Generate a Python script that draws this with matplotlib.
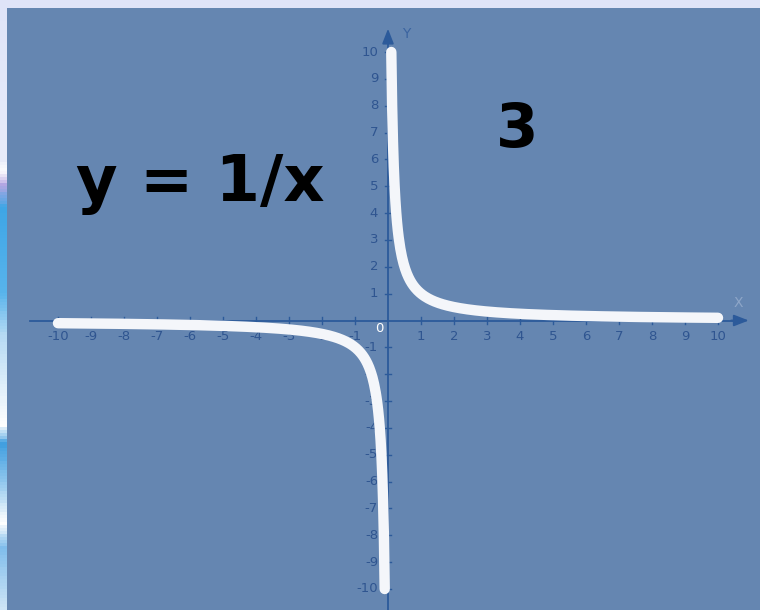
import numpy as np
import matplotlib
matplotlib.use("Agg")
import matplotlib.pyplot as plt
from matplotlib.colors import LinearSegmentedColormap

# Daten: y = 1/x, Stuetzstellen
x_pos = np.linspace(0.1, 10, 400)
x_neg = np.linspace(-10, -0.1, 400)
x_ticks = [-10, -9, -8, -7, -6, -5, -4, -3, -2, -1, 1, 2, 3, 4, 5, 6, 7, 8, 9, 10]
y_ticks = [-10, -9, -8, -7, -6, -5, -4, -3, -2, -1, 1, 2, 3, 4, 5, 6, 7, 8, 9, 10]
formula_text = "y = 1/x"
slide_number = "3"

W, H = 760, 610
panel_color = "#6586b1"
axis_color = "#2c5a9a"
label_color = "#2f5590"

fig = plt.figure(figsize=(W / 100, H / 100), dpi=100)
fig.patch.set_facecolor("#dfe4f8")

# linker Rand mit Farbverlauf (Hintergrund der Folie)
strip = fig.add_axes([0, 0, 8 / W, 1])
cmap = LinearSegmentedColormap.from_list("strip", [
    (0.0, "#dfe4f8"), (0.26, "#e8ecfa"), (0.28, "#ffffff"), (0.30, "#b8a6e2"),
    (0.34, "#3fa6e6"), (0.48, "#58b4ec"), (0.55, "#b6daf4"), (0.70, "#ffffff"),
    (0.73, "#3f9ee0"), (0.80, "#9ccdf0"), (0.86, "#ffffff"), (0.90, "#7fbdec"),
    (1.0, "#cde4f6")])
strip.imshow(np.linspace(0, 1, 200).reshape(-1, 1), aspect="auto", cmap=cmap)
strip.axis("off")

# Panel
px0, py0 = 7, 8
ax = fig.add_axes([px0 / W, 0, (W - px0) / W, (H - py0) / H])
ax.set_facecolor(panel_color)

sx = 33.0     # Pixel pro Einheit in x
sy = 26.85    # Pixel pro Einheit in y
ox, oy = 388, 320.5
ax.set_xlim((px0 - ox) / sx, (W - ox) / sx)
ax.set_ylim((oy - H) / sy, (oy - py0) / sy)
for s in ax.spines.values():
    s.set_visible(False)
ax.set_xticks([])
ax.set_yticks([])

# Achsen mit Pfeilen
x_left = (30 - ox) / sx
x_right = (735 - ox) / sx
y_top = (oy - 38) / sy
y_bot = (oy - H) / sy
ax.plot([x_left, x_right], [0, 0], color=axis_color, lw=1.3, zorder=2)
ax.plot([0, 0], [y_bot, y_top], color=axis_color, lw=1.3, zorder=2)
ax.annotate("", xy=(x_right + 0.5, 0), xytext=(x_right - 0.2, 0),
            arrowprops=dict(arrowstyle="-|>,head_width=0.35,head_length=0.9",
                            color=axis_color, lw=1.3), zorder=3)
ax.annotate("", xy=(0, y_top + 0.45), xytext=(0, y_top - 0.2),
            arrowprops=dict(arrowstyle="-|>,head_width=0.35,head_length=0.9",
                            color=axis_color, lw=1.3), zorder=3)
ax.text(x_right + 0.1, 0.65, "X", color="#8ea6c8", fontsize=10, ha="center", va="center")
ax.text(0.55, y_top + 0.15, "Y", color="#3b64a0", fontsize=10, ha="center", va="center")

# Striche und Beschriftung
for t in x_ticks:
    ax.plot([t, t], [-0.12, 0.12], color=axis_color, lw=1, zorder=2)
    ax.text(t, -0.6, str(t), color=label_color, fontsize=9.5, ha="center", va="center")
for t in y_ticks:
    ax.plot([-0.1, 0.1], [t, t], color=axis_color, lw=1, zorder=2)
    ax.text(-0.3, t, str(t), color=label_color, fontsize=9.5, ha="right", va="center")
ax.text(-0.15, -0.3, "0", color="white", fontsize=9.5, ha="right", va="center")

# Kurve
ax.plot(x_pos, 1 / x_pos, color="#f4f6fa", lw=7.5, solid_capstyle="round", zorder=4)
ax.plot(x_neg, 1 / x_neg, color="#f4f6fa", lw=7.5, solid_capstyle="round", zorder=4)

# Texte
fig.text(200 / W, 1 - 184 / H, formula_text, fontsize=46, fontweight="bold",
         color="black", ha="center", va="center", family="DejaVu Sans")
fig.text(517 / W, 1 - 131 / H, slide_number, fontsize=44, fontweight="bold",
         color="black", ha="center", va="center", family="DejaVu Sans")

fig.savefig("out.png", dpi=100)
